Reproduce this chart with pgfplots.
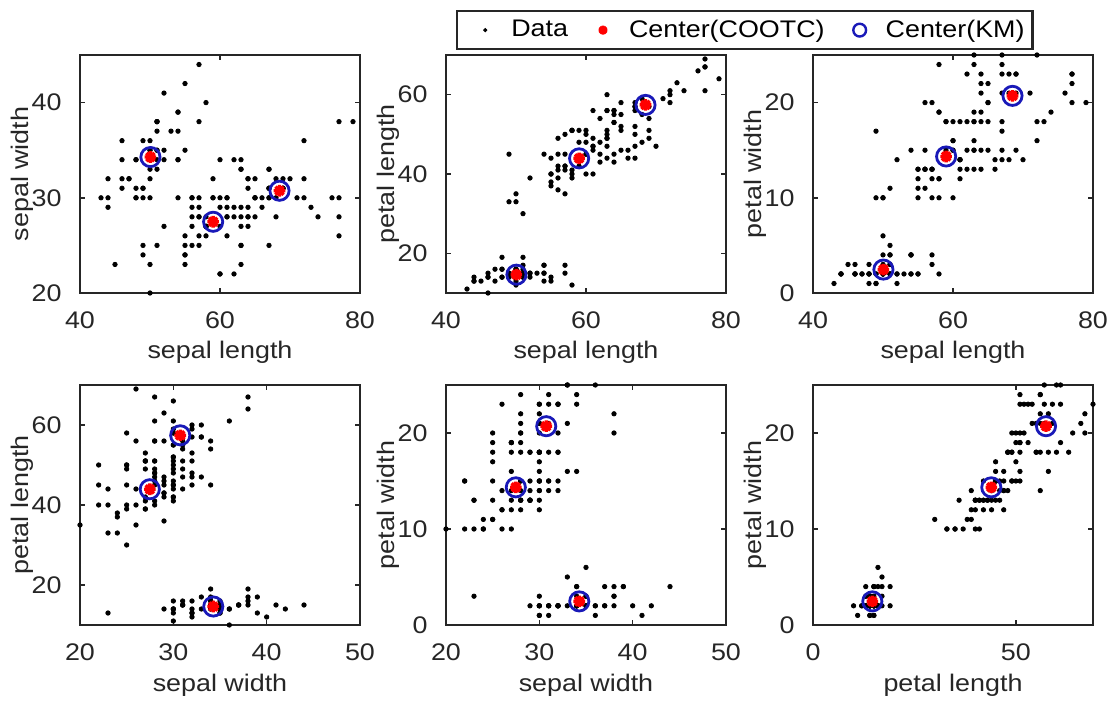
\documentclass[border=0pt]{standalone}
\usepackage{fontspec}
\setmainfont{Liberation Sans}[FakeStretch=1.12]
\usepackage{pgfplots}
\usepackage{pgfplotstable}
\pgfplotsset{compat=1.18}

\definecolor{axgray}{RGB}{38,38,38}
\definecolor{kmblue}{rgb}{0.10,0.10,0.72}
\newcommand{\lbl}{\fontsize{12}{14}\selectfont}

% MATLAB style asterisk (+ and x)
\pgfdeclareplotmark{matast}{%
  \pgfpathmoveto{\pgfqpoint{-\pgfplotmarksize}{0pt}}%
  \pgfpathlineto{\pgfqpoint{\pgfplotmarksize}{0pt}}%
  \pgfpathmoveto{\pgfqpoint{0pt}{-\pgfplotmarksize}}%
  \pgfpathlineto{\pgfqpoint{0pt}{\pgfplotmarksize}}%
  \pgfpathmoveto{\pgfqpoint{-0.707\pgfplotmarksize}{-0.707\pgfplotmarksize}}%
  \pgfpathlineto{\pgfqpoint{0.707\pgfplotmarksize}{0.707\pgfplotmarksize}}%
  \pgfpathmoveto{\pgfqpoint{-0.707\pgfplotmarksize}{0.707\pgfplotmarksize}}%
  \pgfpathlineto{\pgfqpoint{0.707\pgfplotmarksize}{-0.707\pgfplotmarksize}}%
  \pgfusepathqstroke}

% iris (x10): sepal length, sepal width, petal length, petal width
\pgfplotstableread{
sl sw pl pw
51 35 14 2
49 30 14 2
47 32 13 2
46 31 15 2
50 36 14 2
54 39 17 4
46 34 14 3
50 34 15 2
44 29 14 2
49 31 15 1
54 37 15 2
48 34 16 2
48 30 14 1
43 30 11 1
58 40 12 2
57 44 15 4
54 39 13 4
51 35 14 3
57 38 17 3
51 38 15 3
54 34 17 2
51 37 15 4
46 36 10 2
51 33 17 5
48 34 19 2
50 30 16 2
50 34 16 4
52 35 15 2
52 34 14 2
47 32 16 2
48 31 16 2
54 34 15 4
52 41 15 1
55 42 14 2
49 31 15 2
50 32 12 2
55 35 13 2
49 36 14 1
44 30 13 2
51 34 15 2
50 35 13 3
45 23 13 3
44 32 13 2
50 35 16 6
51 38 19 4
48 30 14 3
51 38 16 2
46 32 14 2
53 37 15 2
50 33 14 2
70 32 47 14
64 32 45 15
69 31 49 15
55 23 40 13
65 28 46 15
57 28 45 13
63 33 47 16
49 24 33 10
66 29 46 13
52 27 39 14
50 20 35 10
59 30 42 15
60 22 40 10
61 29 47 14
56 29 36 13
67 31 44 14
56 30 45 15
58 27 41 10
62 22 45 15
56 25 39 11
59 32 48 18
61 28 40 13
63 25 49 15
61 28 47 12
64 29 43 13
66 30 44 14
68 28 48 14
67 30 50 17
60 29 45 15
57 26 35 10
55 24 38 11
55 24 37 10
58 27 39 12
60 27 51 16
54 30 45 15
60 34 45 16
67 31 47 15
63 23 44 13
56 30 41 13
55 25 40 13
55 26 44 12
61 30 46 14
58 26 40 12
50 23 33 10
56 27 42 13
57 30 42 12
57 29 42 13
62 29 43 13
51 25 30 11
57 28 41 13
63 33 60 25
58 27 51 19
71 30 59 21
63 29 56 18
65 30 58 22
76 30 66 21
49 25 45 17
73 29 63 18
67 25 58 18
72 36 61 25
65 32 51 20
64 27 53 19
68 30 55 21
57 25 50 20
58 28 51 24
64 32 53 23
65 30 55 18
77 38 67 22
77 26 69 23
60 22 50 15
69 32 57 23
56 28 49 20
77 28 67 20
63 27 49 18
67 33 57 21
72 32 60 18
62 28 48 18
61 30 49 18
64 28 56 21
72 30 58 16
74 28 61 19
79 38 64 20
64 28 56 22
63 28 51 15
61 26 56 14
77 30 61 23
63 34 56 24
64 31 55 18
60 30 48 18
69 31 54 21
67 31 56 24
69 31 51 23
58 27 51 19
68 32 59 23
67 33 57 25
67 30 52 23
63 25 50 19
65 30 52 20
62 34 54 23
59 30 51 18
}\iris

% cluster centres (x10)
\pgfplotstableread{
sl sw pl pw
50.06 34.28 14.62 2.46
59.02 27.48 43.94 14.34
68.50 30.74 57.42 20.71
}\cootc
\pgfplotstableread{
sl sw pl pw
50.06 34.28 14.62 2.46
59.02 27.48 43.94 14.34
68.50 30.74 57.42 20.71
}\km

\pgfplotsset{
  panel/.style={
    scale only axis, width=140pt, clip=false,
    axis line style={axgray, line width=1.4pt},
    tick style={axgray, line width=0.8pt},
    tick align=inside, major tick length=2.5pt,
    ticklabel style={font=\lbl, text=axgray},
    xticklabel style={yshift=-5pt},
    yticklabel style={xshift=-5pt},
    label style={font=\lbl, text=axgray},
    xlabel style={at={(axis description cs:0.5,-0.25)}, anchor=center},
    ylabel style={at={(axis description cs:-0.205,0.5)}, anchor=center},
    /pgf/number format/assume math mode=true,
  },
  datapts/.style={only marks, mark=*, mark size=1.1pt, black, line width=0.4pt,
    legend image post style={mark size=0.8pt}},
  cpts/.style={only marks, mark=matast, mark size=2.9pt, red, line width=1.7pt,
    legend image post style={mark size=2.2pt, line width=1.4pt}},
  kpts/.style={only marks, mark=o, mark size=4.8pt, kmblue, line width=1.4pt,
    legend image post style={mark size=3.2pt, line width=1.2pt}},
}

\begin{document}
\lbl
\begin{tikzpicture}
\useasboundingbox (0,0) rectangle (554.5pt,351pt);

% top row
\begin{axis}[panel, at={(40pt,204.5pt)}, anchor=south west, height=119pt,
  xmin=40, xmax=80, ymin=20, ymax=45, xtick={40,60,80}, ytick={20,30,40},
  xlabel={sepal length}, ylabel={sepal width}]
\addplot[datapts] table[x=sl,y=sw] {\iris};
\addplot[cpts] table[x=sl,y=sw] {\cootc};
\addplot[kpts] table[x=sl,y=sw] {\km};
\end{axis}

\begin{axis}[panel, at={(223pt,204.5pt)}, anchor=south west, height=119pt,
  xmin=40, xmax=80, ymin=10, ymax=70, xtick={40,60,80}, ytick={20,40,60},
  xlabel={sepal length}, ylabel={petal length},
  legend columns=3,
  legend image code/.code={%
    \path[draw=none, fill=none] (0pt,-2pt) rectangle (23pt,2pt);
    \draw[#1] plot coordinates {(10pt,0pt)};},
  legend style={at={(axis description cs:0.036,1.189)}, anchor=north west,
    draw=axgray, line width=1.2pt, font=\lbl, text=black,
    inner xsep=4pt, inner ysep=4.2pt,
    nodes={inner sep=0pt},
    /tikz/every even column/.append style={column sep=7.5pt}},
  legend cell align=left]
\addplot[datapts] table[x=sl,y=pl] {\iris};
\addlegendentry{Data}
\addplot[cpts] table[x=sl,y=pl] {\cootc};
\addlegendentry{Center(COOTC)}
\addplot[kpts] table[x=sl,y=pl] {\km};
\addlegendentry{Center(KM)}
\end{axis}

\begin{axis}[panel, at={(406.5pt,204.5pt)}, anchor=south west, height=119pt,
  xmin=40, xmax=80, ymin=0, ymax=25, xtick={40,60,80}, ytick={0,10,20},
  xlabel={sepal length}, ylabel={petal width}]
\addplot[datapts] table[x=sl,y=pw] {\iris};
\addplot[cpts] table[x=sl,y=pw] {\cootc};
\addplot[kpts] table[x=sl,y=pw] {\km};
\end{axis}

% bottom row
\begin{axis}[panel, at={(40pt,38.5pt)}, anchor=south west, height=120pt,
  xmin=20, xmax=50, ymin=10, ymax=70, xtick={20,30,40,50}, ytick={20,40,60},
  xlabel={sepal width}, ylabel={petal length}]
\addplot[datapts] table[x=sw,y=pl] {\iris};
\addplot[cpts] table[x=sw,y=pl] {\cootc};
\addplot[kpts] table[x=sw,y=pl] {\km};
\end{axis}

\begin{axis}[panel, at={(223pt,38.5pt)}, anchor=south west, height=120pt,
  xmin=20, xmax=50, ymin=0, ymax=25, xtick={20,30,40,50}, ytick={0,10,20},
  xlabel={sepal width}, ylabel={petal width}]
\addplot[datapts] table[x=sw,y=pw] {\iris};
\addplot[cpts] table[x=sw,y=pw] {\cootc};
\addplot[kpts] table[x=sw,y=pw] {\km};
\end{axis}

\begin{axis}[panel, at={(406.5pt,38.5pt)}, anchor=south west, height=120pt,
  xmin=0, xmax=69, ymin=0, ymax=25, xtick={0,50}, ytick={0,10,20},
  xlabel={petal length}, ylabel={petal width}]
\addplot[datapts] table[x=pl,y=pw] {\iris};
\addplot[cpts] table[x=pl,y=pw] {\cootc};
\addplot[kpts] table[x=pl,y=pw] {\km};
\end{axis}
\end{tikzpicture}
\end{document}
